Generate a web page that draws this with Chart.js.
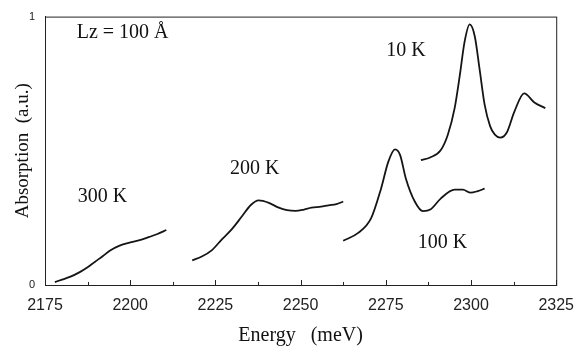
<!DOCTYPE html>
<html lang="en">
<head>
    <meta charset="UTF-8">
    <title>Absorption vs Energy</title>
    <script src="https://cdn.jsdelivr.net/npm/chart.js"></script>
    <style>
        body {
            margin: 0;
            padding: 0;
            background-color: #fff;
        }
        #chart {
            display: block;
        }
    </style>
</head>
<body>
    <canvas id="chart" width="585" height="355"></canvas>

    <script>
        // Data (energy in meV, absorption in a.u.)
        const energy300 = [2177.9, 2180, 2182.3, 2185.2, 2187.5, 2189.6, 2192, 2194, 2196.9, 2199.8, 2202.5, 2205.6, 2208, 2210.6];
        const abs300 = [0.011, 0.02, 0.03, 0.048, 0.066, 0.086, 0.108, 0.128, 0.147, 0.158, 0.166, 0.179, 0.19, 0.205];

        const energy200 = [2218.2, 2221, 2224, 2226.9, 2229.9, 2232.8, 2235.4, 2237.7, 2240.7, 2243.6, 2246, 2248.5, 2251, 2253.2, 2256, 2258.2, 2260.5, 2262.5];
        const abs200 = [0.092, 0.106, 0.13, 0.17, 0.209, 0.256, 0.298, 0.315, 0.306, 0.288, 0.279, 0.276, 0.281, 0.288, 0.292, 0.297, 0.301, 0.311];

        const energy100 = [2262.5, 2266.9, 2270.7, 2273.6, 2275.7, 2277.7, 2279.2, 2280.9, 2283.5, 2285.9, 2288.2, 2291.1, 2295.2, 2297.6, 2299.9, 2302, 2304];
        const abs100 = [0.165, 0.194, 0.249, 0.359, 0.458, 0.505, 0.484, 0.396, 0.311, 0.275, 0.282, 0.322, 0.355, 0.355, 0.344, 0.350, 0.359];

        const energy10 = [2285.3, 2288, 2291.1, 2293.2, 2295.2, 2296.7, 2298.1, 2299.6, 2301.1, 2302.5, 2304, 2305.6, 2307, 2308.6, 2310.5, 2312.7, 2315.6, 2318.6, 2321.8];
        const abs10 = [0.465, 0.475, 0.502, 0.560, 0.659, 0.780, 0.905, 0.971, 0.927, 0.806, 0.672, 0.592, 0.560, 0.549, 0.568, 0.645, 0.714, 0.680, 0.659];

        const xTicks = [2175, 2200, 2225, 2250, 2275, 2300, 2325];
        const yTicks = [0, 1];

        function toPoints(xs, ys) {
            return xs.map((x, i) => ({ x: x, y: ys[i] }));
        }

        function series(label, xs, ys) {
            return {
                label: label,
                data: toPoints(xs, ys),
                borderColor: '#151515',
                borderWidth: 1.8,
                pointRadius: 0,
                cubicInterpolationMode: 'monotone',
                fill: false
            };
        }

        // text labels placed in data coordinates
        const notes = [
            { text: 'Lz = 100 Å', x: 2184.3, y: 0.938 },
            { text: '300 K', x: 2184.6, y: 0.33 },
            { text: '200 K', x: 2229.3, y: 0.432 },
            { text: '10 K', x: 2275.1, y: 0.872 },
            { text: '100 K', x: 2284.4, y: 0.158 }
        ];

        // frame, inward ticks and the labels
        const framePlugin = {
            id: 'frame',
            afterDraw(chart) {
                const ctx = chart.ctx;
                const area = chart.chartArea;
                const xs = chart.scales.x;
                const ys = chart.scales.y;
                ctx.save();
                ctx.strokeStyle = '#222';
                ctx.lineWidth = 1;
                ctx.strokeRect(area.left + 0.5, area.top + 0.5, area.right - area.left, area.bottom - area.top);

                // x ticks pointing up, minor every 12.5
                for (let v = xs.min; v <= xs.max; v += 12.5) {
                    const px = Math.round(xs.getPixelForValue(v)) + 0.5;
                    const len = (v - xs.min) % 25 === 0 ? 5 : 3;
                    ctx.beginPath();
                    ctx.moveTo(px, area.bottom);
                    ctx.lineTo(px, area.bottom - len);
                    ctx.stroke();
                }

                ctx.fillStyle = '#111';
                ctx.font = '20px "Liberation Serif", "DejaVu Serif", serif';
                ctx.textBaseline = 'middle';
                ctx.textAlign = 'left';
                notes.forEach(n => {
                    ctx.fillText(n.text, xs.getPixelForValue(n.x), ys.getPixelForValue(n.y));
                });
                ctx.restore();
            }
        };

        const ctx = document.getElementById('chart').getContext('2d');
        const chart = new Chart(ctx, {
            type: 'line',
            data: {
                datasets: [
                    series('300 K', energy300, abs300),
                    series('200 K', energy200, abs200),
                    series('100 K', energy100, abs100),
                    series('10 K', energy10, abs10)
                ]
            },
            options: {
                responsive: false,
                animation: false,
                layout: {
                    padding: { left: 12, top: 12, right: 26, bottom: 0 }
                },
                plugins: {
                    legend: { display: false },
                    tooltip: { enabled: false }
                },
                scales: {
                    x: {
                        type: 'linear',
                        min: 2175,
                        max: 2325,
                        afterFit: s => { s.height = 70; },
                        afterBuildTicks: s => { s.ticks = xTicks.map(v => ({ value: v })); },
                        grid: { display: false, drawTicks: false },
                        border: { display: true, color: '#222', width: 1 },
                        ticks: {
                            padding: 11,
                            color: '#222',
                            maxRotation: 0,
                            font: { family: '"Liberation Sans", Arial, sans-serif', size: 16 },
                            callback: v => String(v)
                        },
                        title: {
                            display: true,
                            text: 'Energy   (meV)',
                            color: '#111',
                            font: { family: '"Liberation Serif", serif', size: 20 },
                            padding: { top: 0, bottom: 7 }
                        }
                    },
                    y: {
                        min: 0,
                        max: 1,
                        afterFit: s => { s.width = 33; },
                        afterBuildTicks: s => { s.ticks = yTicks.map(v => ({ value: v })); },
                        grid: { display: false, drawTicks: false },
                        border: { display: true, color: '#222', width: 1 },
                        ticks: {
                            padding: 10,
                            color: '#222',
                            font: { family: '"Liberation Sans", Arial, sans-serif', size: 11 },
                            callback: v => String(v)
                        },
                        title: {
                            display: true,
                            text: 'Absorption  (a.u.)',
                            color: '#111',
                            font: { family: '"Liberation Serif", serif', size: 19 },
                            padding: { top: 0, bottom: 0 }
                        }
                    }
                }
            },
            plugins: [framePlugin]
        });
    </script>
</body>
</html>
